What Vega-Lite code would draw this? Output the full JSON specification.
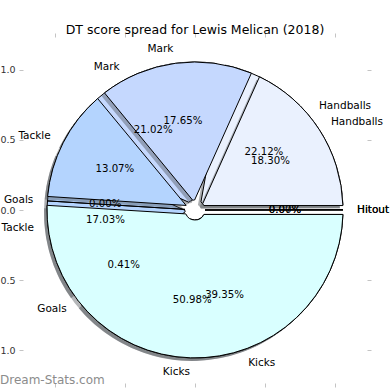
{
  "$schema": "https://vega.github.io/schema/vega-lite/v6.json",
  "width": 344,
  "height": 346,
  "autosize": "none",
  "padding": {"left": 23, "right": 23, "top": 37, "bottom": 7},
  "background": "white",
  "title": {"text": "DT score spread for Lewis Melican (2018)", "font": "DejaVu Sans", "fontSize": 12.5, "fontWeight": "normal", "color": "black", "anchor": "middle", "offset": -4},
  "config": {
    "view": {"stroke": null},
    "axis": {"domain": false, "grid": false, "tickColor": "#c4c4c4", "tickSize": 4, "tickWidth": 1, "labelFont": "DejaVu Sans", "labelFontSize": 9.5, "labelColor": "#333333", "labelPadding": 4, "title": null}
  },
  "datasets": {
    "pies": [
      {"pie": "A", "cat": "Hitout", "k": 1, "share": 0.0007},
      {"pie": "A", "cat": "Handballs", "k": 2, "share": 0.2212},
      {"pie": "A", "cat": "Mark", "k": 3, "share": 0.2102},
      {"pie": "A", "cat": "Tackle", "k": 4, "share": 0.1703},
      {"pie": "A", "cat": "Goals", "k": 5, "share": 0.0041},
      {"pie": "A", "cat": "Kicks", "k": 6, "share": 0.3935},
      {"pie": "B", "cat": "Hitout", "k": 1, "share": 0.0},
      {"pie": "B", "cat": "Handballs", "k": 2, "share": 0.1830},
      {"pie": "B", "cat": "Mark", "k": 3, "share": 0.1765},
      {"pie": "B", "cat": "Tackle", "k": 4, "share": 0.1307},
      {"pie": "B", "cat": "Goals", "k": 5, "share": 0.0},
      {"pie": "B", "cat": "Kicks", "k": 6, "share": 0.5098}
    ]
  },
  "layer": [
    {
      "data": {"values": [{"t": "Dream-Stats.com"}]},
      "mark": {"type": "text", "align": "left", "baseline": "middle", "font": "DejaVu Sans", "fontSize": 12, "color": "#8c8c8c", "clip": false},
      "encoding": {
        "text": {"field": "t"},
        "x": {"datum": -1.393, "type": "quantitative", "scale": {"domain": [-1.2286, 1.2286], "nice": false, "zero": false}, "axis": {"orient": "bottom", "values": [-1, -0.5, 0, 0.5, 1], "format": ".1f", "labelPadding": 1}},
        "y": {"datum": -1.214, "type": "quantitative", "scale": {"domain": [-1.2357, 1.2357], "nice": false, "zero": false}, "axis": {"orient": "left", "values": [-1, -0.5, 0, 0.5, 1], "format": ".1f"}}
      }
    },
    {
      "data": {"values": [{"t": ""}]},
      "mark": {"type": "point", "opacity": 0},
      "encoding": {
        "x": {"datum": 0, "type": "quantitative", "scale": {"domain": [-1.2286, 1.2286], "nice": false, "zero": false}, "axis": {"orient": "top", "values": [-1, -0.5, 0, 0.5, 1], "labels": false}},
        "y": {"datum": 0, "type": "quantitative", "scale": {"domain": [-1.2357, 1.2357], "nice": false, "zero": false}, "axis": {"orient": "right", "values": [-1, -0.5, 0, 0.5, 1], "labels": false}}
      }
    },
    {
      "data": {"name": "pies"},
      "transform": [{"filter": "datum.pie === 'A'"}],
      "mark": {"type": "arc", "radius": 148, "radius2": 10, "padAngle": 0.06, "color": "#454a50", "opacity": 0.45, "xOffset": -3, "yOffset": 3},
      "encoding": {
        "theta": {"field": "share", "type": "quantitative", "stack": true, "scale": {"domain": [0, 1], "range": [1.5707963, -4.712389]}},
        "order": {"field": "k", "type": "quantitative"},
        "detail": {"field": "cat"}
      }
    },
    {
      "data": {"name": "pies"},
      "transform": [{"filter": "datum.pie === 'A'"}],
      "mark": {"type": "arc", "radius": 148, "radius2": 10, "padAngle": 0.06, "stroke": "black", "strokeWidth": 1},
      "encoding": {
        "theta": {"field": "share", "type": "quantitative", "stack": true, "scale": {"domain": [0, 1], "range": [1.5707963, -4.712389]}},
        "order": {"field": "k", "type": "quantitative"},
        "color": {"field": "cat", "type": "nominal", "legend": null, "scale": {"domain": ["Hitout", "Handballs", "Mark", "Tackle", "Goals", "Kicks"], "range": ["#dbe9ff", "#eaf1fe", "#c5d8fe", "#b4d4fe", "#a9c8f5", "#d9ffff"]}}
      }
    },
    {
      "data": {"name": "pies"},
      "transform": [{"filter": "datum.pie === 'B'"}],
      "mark": {"type": "arc", "radius": 148, "radius2": 10, "padAngle": 0.06, "color": "#454a50", "opacity": 0.4, "xOffset": -3, "yOffset": 3},
      "encoding": {
        "theta": {"field": "share", "type": "quantitative", "stack": true, "scale": {"domain": [0, 1], "range": [1.5707963, -4.712389]}},
        "order": {"field": "k", "type": "quantitative"},
        "detail": {"field": "cat"}
      }
    },
    {
      "data": {"name": "pies"},
      "transform": [{"filter": "datum.pie === 'B'"}],
      "mark": {"type": "arc", "radius": 148, "radius2": 10, "padAngle": 0.06, "stroke": "black", "strokeWidth": 1},
      "encoding": {
        "theta": {"field": "share", "type": "quantitative", "stack": true, "scale": {"domain": [0, 1], "range": [1.5707963, -4.712389]}},
        "order": {"field": "k", "type": "quantitative"},
        "color": {"field": "cat", "type": "nominal", "legend": null, "scale": {"domain": ["Hitout", "Handballs", "Mark", "Tackle", "Goals", "Kicks"], "range": ["#dbe9ff", "#eaf1fe", "#c5d8fe", "#b4d4fe", "#a9c8f5", "#d9ffff"]}}
      }
    },
    {
      "data": {"name": "pies"},
      "transform": [{"filter": "datum.pie === 'A'"}],
      "mark": {"type": "text", "radius": 162, "font": "DejaVu Sans", "fontSize": 10.5, "color": "black", "baseline": "middle", "align": {"expr": "cos(PI * (datum.share_start + datum.share_end)) >= 0 ? 'left' : 'right'"}},
      "encoding": {
        "theta": {"field": "share", "type": "quantitative", "stack": true, "scale": {"domain": [0, 1], "range": [1.5707963, -4.712389]}},
        "order": {"field": "k", "type": "quantitative"},
        "detail": {"field": "cat"},
        "text": {"field": "cat"}
      }
    },
    {
      "data": {"name": "pies"},
      "transform": [{"filter": "datum.pie === 'B'"}],
      "mark": {"type": "text", "radius": 162, "font": "DejaVu Sans", "fontSize": 10.5, "color": "black", "baseline": "middle", "align": {"expr": "cos(PI * (datum.share_start + datum.share_end)) >= 0 ? 'left' : 'right'"}},
      "encoding": {
        "theta": {"field": "share", "type": "quantitative", "stack": true, "scale": {"domain": [0, 1], "range": [1.5707963, -4.712389]}},
        "order": {"field": "k", "type": "quantitative"},
        "detail": {"field": "cat"},
        "text": {"field": "cat"}
      }
    },
    {
      "data": {"name": "pies"},
      "transform": [{"filter": "datum.pie === 'A'"}],
      "mark": {"type": "text", "radius": 90, "font": "DejaVu Sans", "fontSize": 10.2, "color": "black", "baseline": "middle", "align": "center"},
      "encoding": {
        "theta": {"field": "share", "type": "quantitative", "stack": true, "scale": {"domain": [0, 1], "range": [1.5707963, -4.712389]}},
        "order": {"field": "k", "type": "quantitative"},
        "detail": {"field": "cat"},
        "text": {"field": "share", "type": "quantitative", "format": ".2%"}
      }
    },
    {
      "data": {"name": "pies"},
      "transform": [{"filter": "datum.pie === 'B'"}],
      "mark": {"type": "text", "radius": 90, "font": "DejaVu Sans", "fontSize": 10.2, "color": "black", "baseline": "middle", "align": "center"},
      "encoding": {
        "theta": {"field": "share", "type": "quantitative", "stack": true, "scale": {"domain": [0, 1], "range": [1.5707963, -4.712389]}},
        "order": {"field": "k", "type": "quantitative"},
        "detail": {"field": "cat"},
        "text": {"field": "share", "type": "quantitative", "format": ".2%"}
      }
    }
  ],
  "resolve": {"scale": {"x": "independent", "y": "independent"}, "axis": {"x": "independent", "y": "independent"}}
}
